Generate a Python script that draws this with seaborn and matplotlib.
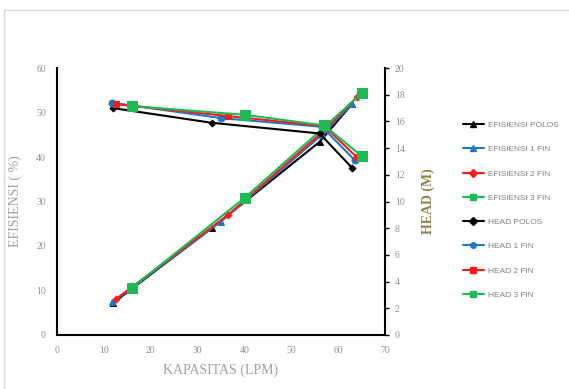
import matplotlib
matplotlib.use("Agg")
import matplotlib.pyplot as plt
import seaborn as sns
import pandas as pd
from matplotlib.lines import Line2D

sns.set_theme(style="white")
plt.rcParams['font.family'] = ['Liberation Serif', 'DejaVu Serif']

# Efficiency series (left axis, %)
eff_polos_x = [12, 33, 56, 63]
eff_polos_y = [7.2, 24.0, 43.4, 52.0]
eff_1fin_x = [11.8, 35, 56.5, 63]
eff_1fin_y = [7.3, 25.5, 45.0, 52.0]
eff_2fin_x = [12.5, 36.5, 57, 64]
eff_2fin_y = [8.0, 27.0, 46.0, 53.5]
eff_3fin_x = [16, 40, 57, 65]
eff_3fin_y = [10.6, 30.8, 46.7, 54.4]

# Head series (right axis, m)
head_polos_x = [12, 33, 56, 63]
head_polos_y = [17.0, 15.9, 15.1, 12.5]
head_1fin_x = [11.8, 35, 56.5, 63.5]
head_1fin_y = [17.4, 16.25, 15.6, 13.1]
head_2fin_x = [12.5, 36.5, 57, 64]
head_2fin_y = [17.3, 16.4, 15.65, 13.3]
head_3fin_x = [16, 40, 57, 65]
head_3fin_y = [17.15, 16.5, 15.7, 13.4]

x_ticks = [0, 10, 20, 30, 40, 50, 60, 70]
eff_ticks = [0, 10, 20, 30, 40, 50, 60]
head_ticks = [0, 2, 4, 6, 8, 10, 12, 14, 16, 18, 20]

eff_series = [
    ("EFISIENSI POLOS", eff_polos_x, eff_polos_y, "black", "^", 4),
    ("EFISIENSI 1 FIN", eff_1fin_x, eff_1fin_y, "#1F77C8", "^", 4),
    ("EFISIENSI 2 FIN", eff_2fin_x, eff_2fin_y, "#FF1A1A", "D", 3.5),
    ("EFISIENSI 3 FIN", eff_3fin_x, eff_3fin_y, "#1DB954", "s", 7),
]
head_series = [
    ("HEAD POLOS", head_polos_x, head_polos_y, "black", "D", 3.5),
    ("HEAD 1 FIN", head_1fin_x, head_1fin_y, "#1F77C8", "o", 5),
    ("HEAD 2 FIN", head_2fin_x, head_2fin_y, "#FF1A1A", "s", 5),
    ("HEAD 3 FIN", head_3fin_x, head_3fin_y, "#1DB954", "s", 7),
]

fig = plt.figure(figsize=(5.69, 3.89), dpi=100)
ax = fig.add_axes([0.100, 0.139, 0.577, 0.686])
ax2 = ax.twinx()

handles = []
for name, xs, ys, col, mk, ms in eff_series:
    df = pd.DataFrame({"x": xs, "y": ys})
    sns.lineplot(data=df, x="x", y="y", ax=ax, color=col, marker=mk, markersize=ms,
                 markeredgecolor=col, linewidth=1.5, sort=False, legend=False)
    handles.append(Line2D([0], [0], color=col, marker=mk, markersize=4, lw=1.5, label=name))
for name, xs, ys, col, mk, ms in head_series:
    df = pd.DataFrame({"x": xs, "y": ys})
    sns.lineplot(data=df, x="x", y="y", ax=ax2, color=col, marker=mk, markersize=ms,
                 markeredgecolor=col, linewidth=1.5, sort=False, legend=False)
    handles.append(Line2D([0], [0], color=col, marker=mk, markersize=4, lw=1.5, label=name))

ax.set_xlim(0, 70)
ax.set_ylim(0, 60)
ax2.set_ylim(0, 20)
ax.set_xticks(x_ticks)
ax.set_yticks(eff_ticks)
ax2.set_yticks(head_ticks)

for a in (ax, ax2):
    for s in a.spines.values():
        s.set_visible(False)
ax.spines['left'].set_visible(True)
ax.spines['bottom'].set_visible(True)
ax2.spines['right'].set_visible(True)
for s in (ax.spines['left'], ax.spines['bottom'], ax2.spines['right']):
    s.set_color('black')
    s.set_linewidth(1.5)

ax.tick_params(axis='both', length=0, labelsize=7, labelcolor='#909090', pad=8)
ax2.tick_params(axis='y', length=3, width=1, direction='out', color='black',
                labelsize=7, labelcolor='#909090', pad=4)
ax.grid(False)
ax2.grid(False)

ax.set_xlabel("KAPASITAS (LPM)", fontsize=10, color='#A0A0A0', labelpad=6)
ax.set_ylabel("EFISIENSI ( %)", fontsize=10, color='#A0A0A0', labelpad=10)
ax2.set_ylabel("HEAD (M)", fontsize=10, color='#8B8548', fontweight='bold', labelpad=12)

leg = fig.legend(handles=handles, loc='upper left', bbox_to_anchor=(0.807, 0.697),
                 frameon=False, prop={'family': ['Liberation Sans'], 'size': 6},
                 labelcolor='#808080', handlelength=2.6, handletextpad=0.4,
                 labelspacing=1.97, borderaxespad=0)

fig.add_artist(Line2D([4/569, 1], [1 - 10/389, 1 - 10/389], color='#D9D9D9', lw=1,
                      transform=fig.transFigure))
fig.add_artist(Line2D([4/569, 4/569], [1 - 10/389, 0], color='#D9D9D9', lw=1,
                      transform=fig.transFigure))

fig.savefig("out.png", dpi=100, facecolor='white')
